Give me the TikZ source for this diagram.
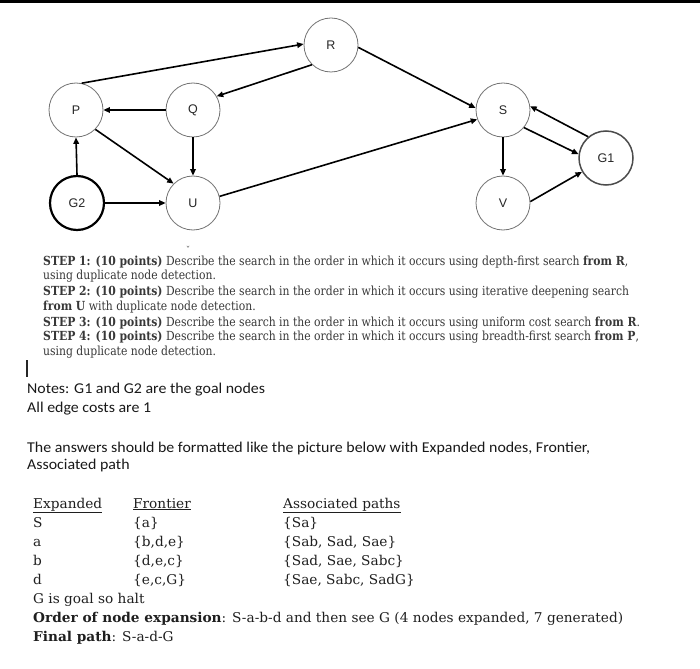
\documentclass[tikz,border=0pt]{standalone}
\usepackage{fontspec}
\usepackage{graphicx}
\setmainfont{DejaVu Serif}
\newfontfamily\rsNodeFont{Liberation Sans}
\newfontfamily\rsNoteFont{Carlito}
\usetikzlibrary{arrows.meta}
\newsavebox\rsBox
\newcommand\rsMeasure[3]{\sbox\rsBox{#3}\pgfmathsetmacro\rsTmp{#2/(\the\wd\rsBox)}\global\let#1\rsTmp}
\tikzset{
  gnode/.style={circle, draw=black!55, line width=0.8pt, minimum size=54pt, inner sep=0pt,
    font=\rsNodeFont\fontsize{12.5}{12.5}\selectfont, text=black!85},
  edge/.style={line width=1.6pt, -{Triangle[length=6.5pt,width=5.5pt]}},
  steptxt/.style={anchor=base west, inner sep=0pt, text=black!78},
  notetxt/.style={anchor=base west, inner sep=0pt, text=black!90},
  tabtxt/.style={anchor=base west, inner sep=0pt, text=black!88},
}
\newcommand\rsStepFont{\fontsize{12.5}{15}\selectfont}
\newcommand\rsNoteSize{\rsNoteFont\fontsize{15}{16}\selectfont}
\newcommand\rsTabFont{\fontsize{13.5}{16}\selectfont}
\begin{document}
\rsMeasure{\rsRatioA}{585}{\rsStepFont\textbf{STEP 1: (10 points)} Describe the search in the order in which it occurs using depth-first search \textbf{from R},}%
\rsMeasure{\rsRatioB}{563}{\rsNoteSize The answers should be formatted like the picture below with Expanded nodes, Frontier,}%
\rsMeasure{\rsRatioC}{590}{\rsTabFont\textbf{Order of node expansion}: S-a-b-d and then see G (4 nodes expanded, 7 generated)}%
\begin{tikzpicture}[x=1pt,y=-1pt]
\useasboundingbox (0,0) rectangle (700,668);
\fill[white] (0,0) rectangle (700,668);
\fill[black] (0,0) rectangle (700,3.5);
% graph nodes
\node[gnode] (R) at (331,45) {R};
\node[gnode] (P) at (76,110) {P};
\node[gnode] (Q) at (193,110) {Q};
\node[gnode, draw=black, line width=2.2pt] (G2) at (77,203) {G2};
\node[gnode] (U) at (193,203) {U};
\node[gnode] (S) at (503,110) {S};
\node[gnode] (V) at (503,203) {V};
\node[gnode, draw=black!70, line width=1.5pt] (G1) at (606,158) {G1};
% edges
\draw[edge] (P.78) -- (R.178);
\draw[edge] (R.226) -- (Q.30);
\draw[edge] (Q.west) -- (P.east);
\draw[edge] (Q.south) -- (U.north);
\draw[edge] (P.-45) -- (U.135);
\draw[edge] (G2.north) -- (P.south);
\draw[edge] (G2.east) -- (U.west);
\draw[edge] (U.14) -- (S.200);
\draw[edge] (R.-5) -- (S.176);
\draw[edge] (S.south) -- (V.north);
\draw[edge] (S.-40) -- (G1.172);
\draw[edge] (G1.130) -- (S.8);
\draw[edge] (V.3) -- (G1.210);
% step text
\node[inner sep=0pt, text=black!70, font=\fontsize{9}{9}\selectfont] (mark) at (188,250) {ˇ};
\node[steptxt] (s1) at (43,265) {\rsStepFont\scalebox{\rsRatioA}[1]{\textbf{STEP 1: (10 points)} Describe the search in the order in which it occurs using depth-first search \textbf{from R},}};
\node[steptxt] (s1b) at (43,279) {\rsStepFont\scalebox{\rsRatioA}[1]{using duplicate node detection.}};
\node[steptxt] (s2) at (43,295) {\rsStepFont\scalebox{\rsRatioA}[1]{\textbf{STEP 2: (10 points)} Describe the search in the order in which it occurs using iterative deepening search}};
\node[steptxt] (s2b) at (43,310) {\rsStepFont\scalebox{\rsRatioA}[1]{\textbf{from U} with duplicate node detection.}};
\node[steptxt] (s3) at (43,326) {\rsStepFont\scalebox{\rsRatioA}[1]{\textbf{STEP 3: (10 points)} Describe the search in the order in which it occurs using uniform cost search \textbf{from R}.}};
\node[steptxt] (s4) at (43,340) {\rsStepFont\scalebox{\rsRatioA}[1]{\textbf{STEP 4: (10 points)} Describe the search in the order in which it occurs using breadth-first search \textbf{from P},}};
\node[steptxt] (s4b) at (43,355) {\rsStepFont\scalebox{\rsRatioA}[1]{using duplicate node detection.}};
% cursor
\coordinate (c1) at (27,360);
\coordinate (c2) at (27,377);
\draw[line width=1.1pt, black!85] (c1) -- (c2);
% notes
\node[notetxt] (n1) at (27,393) {\rsNoteSize\scalebox{\rsRatioB}[1]{Notes: G1 and G2 are the goal nodes}};
\node[notetxt] (n2) at (27,412) {\rsNoteSize\scalebox{\rsRatioB}[1]{All edge costs are 1}};
\node[notetxt] (n3) at (27,452) {\rsNoteSize\scalebox{\rsRatioB}[1]{The answers should be formatted like the picture below with Expanded nodes, Frontier,}};
\node[notetxt] (n4) at (27,469) {\rsNoteSize\scalebox{\rsRatioB}[1]{Associated path}};
% table
\node[tabtxt] (h1) at (33,508) {\rsTabFont\scalebox{\rsRatioC}[1]{\underline{Expanded}}};
\node[tabtxt] (h2) at (133,508) {\rsTabFont\scalebox{\rsRatioC}[1]{\underline{Frontier}}};
\node[tabtxt] (h3) at (283,508) {\rsTabFont\scalebox{\rsRatioC}[1]{\underline{Associated paths}}};
\node[tabtxt] (r1a) at (33,527) {\rsTabFont\scalebox{\rsRatioC}[1]{S}};
\node[tabtxt] (r1b) at (133,527) {\rsTabFont\scalebox{\rsRatioC}[1]{\{a\}}};
\node[tabtxt] (r1c) at (283,527) {\rsTabFont\scalebox{\rsRatioC}[1]{\{Sa\}}};
\node[tabtxt] (r2a) at (33,546) {\rsTabFont\scalebox{\rsRatioC}[1]{a}};
\node[tabtxt] (r2b) at (133,546) {\rsTabFont\scalebox{\rsRatioC}[1]{\{b,d,e\}}};
\node[tabtxt] (r2c) at (283,546) {\rsTabFont\scalebox{\rsRatioC}[1]{\{Sab, Sad, Sae\}}};
\node[tabtxt] (r3a) at (33,565) {\rsTabFont\scalebox{\rsRatioC}[1]{b}};
\node[tabtxt] (r3b) at (133,565) {\rsTabFont\scalebox{\rsRatioC}[1]{\{d,e,c\}}};
\node[tabtxt] (r3c) at (283,565) {\rsTabFont\scalebox{\rsRatioC}[1]{\{Sad, Sae, Sabc\}}};
\node[tabtxt] (r4a) at (33,584) {\rsTabFont\scalebox{\rsRatioC}[1]{d}};
\node[tabtxt] (r4b) at (133,584) {\rsTabFont\scalebox{\rsRatioC}[1]{\{e,c,G\}}};
\node[tabtxt] (r4c) at (283,584) {\rsTabFont\scalebox{\rsRatioC}[1]{\{Sae, Sabc, SadG\}}};
\node[tabtxt] (t1) at (33,603) {\rsTabFont\scalebox{\rsRatioC}[1]{G is goal so halt}};
\node[tabtxt] (t2) at (33,622) {\rsTabFont\scalebox{\rsRatioC}[1]{\textbf{Order of node expansion}: S-a-b-d and then see G (4 nodes expanded, 7 generated)}};
\node[tabtxt] (t3) at (33,641) {\rsTabFont\scalebox{\rsRatioC}[1]{\textbf{Final path}: S-a-d-G}};
\end{tikzpicture}
\end{document}
